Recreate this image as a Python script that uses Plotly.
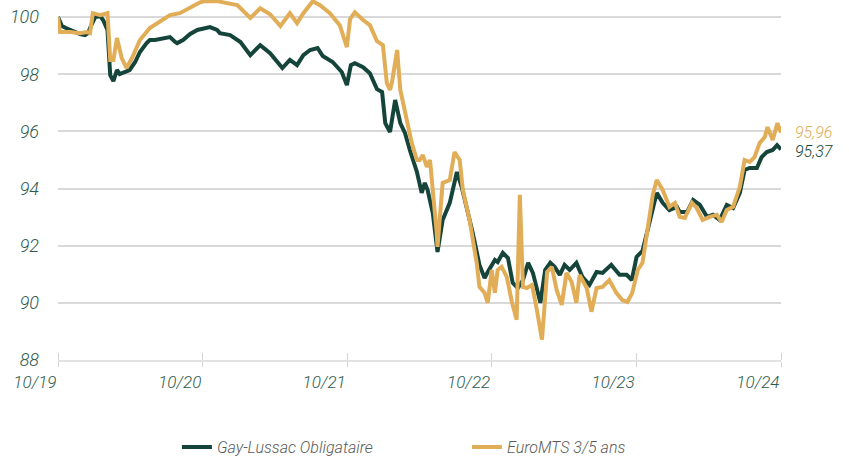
import plotly.graph_objects as go

# Gay-Lussac Obligataire (base 100)
gl_dates = ["2019-10-01","2019-10-11","2019-10-21","2019-11-01","2019-11-13","2019-11-26","2019-12-08","2019-12-16","2019-12-21",
"2020-01-03","2020-01-16","2020-01-23","2020-02-03","2020-02-10","2020-02-18","2020-02-27","2020-03-05","2020-03-18","2020-03-30",
"2020-04-13","2020-04-25","2020-05-12","2020-05-20","2020-06-02","2020-06-27","2020-07-10","2020-07-23","2020-07-28","2020-08-12",
"2020-08-30","2020-09-17","2020-10-07","2020-10-19","2020-11-06","2020-11-13","2020-12-09","2021-01-04","2021-01-29","2021-02-23",
"2021-03-20","2021-04-20","2021-05-09","2021-05-27","2021-06-12","2021-06-29","2021-07-18","2021-07-31","2021-08-25","2021-09-05",
"2021-09-17","2021-09-30","2021-10-10","2021-10-20","2021-11-10","2021-11-27","2021-12-15","2021-12-28","2022-01-05","2022-01-17",
"2022-01-30","2022-02-12","2022-02-24","2022-03-08","2022-03-26","2022-04-07","2022-04-15","2022-04-22","2022-05-05","2022-05-17",
"2022-05-30","2022-06-17","2022-07-05","2022-07-17","2022-07-30","2022-08-14","2022-08-31","2022-09-13","2022-09-21","2022-10-01",
"2022-10-09","2022-10-16","2022-10-29","2022-11-11","2022-11-23","2022-12-06","2022-12-19","2023-01-01","2023-01-13","2023-02-01",
"2023-02-13","2023-02-26","2023-03-09","2023-03-22","2023-04-03","2023-04-16","2023-05-03","2023-05-18","2023-06-05","2023-06-23",
"2023-07-08","2023-07-30","2023-08-20","2023-09-07","2023-09-20","2023-10-02","2023-10-17","2023-10-30","2023-11-12","2023-11-22",
"2023-12-07","2023-12-24","2024-01-12","2024-01-19","2024-02-07","2024-02-22","2024-03-10","2024-03-28","2024-04-12","2024-04-29",
"2024-05-17","2024-06-02","2024-06-19","2024-07-01","2024-07-14","2024-08-01","2024-08-13","2024-08-26","2024-09-10","2024-09-21",
"2024-10-01"]
gl_values = [100.00,99.69,99.62,99.55,99.48,99.41,99.37,99.44,99.62,
100.00,100.03,99.90,99.55,97.97,97.76,98.15,98.01,98.08,98.15,
98.43,98.78,99.09,99.20,99.20,99.27,99.30,99.13,99.09,99.20,
99.41,99.55,99.62,99.65,99.55,99.44,99.37,99.13,98.67,99.02,
98.74,98.22,98.50,98.32,98.67,98.85,98.92,98.64,98.43,98.25,
98.08,97.62,98.32,98.39,98.25,98.04,97.48,97.38,96.29,95.98,
97.10,96.29,95.94,95.35,94.58,93.85,94.20,93.95,93.15,91.78,
92.90,93.50,94.58,94.06,93.36,92.45,91.33,90.87,91.08,91.33,
91.50,91.43,91.75,91.57,90.70,90.52,90.80,91.40,91.05,90.00,
91.15,91.40,91.26,90.98,91.33,91.15,91.40,90.91,90.63,91.08,
91.05,91.33,90.98,90.98,90.80,91.61,91.82,92.55,93.25,93.85,
93.50,93.25,93.36,93.18,93.18,93.60,93.43,93.01,93.08,92.90,
93.43,93.32,93.85,94.65,94.72,94.72,95.10,95.28,95.35,95.52,
95.37]

# EuroMTS 3/5 ans (base 100)
em_dates = ["2019-10-01","2019-10-06","2019-11-01","2019-11-26","2019-12-13","2019-12-21","2019-12-28","2020-01-16","2020-02-03",
"2020-02-10","2020-02-18","2020-02-27","2020-03-10","2020-03-22","2020-04-05","2020-04-25","2020-05-20","2020-06-15","2020-07-10",
"2020-08-04","2020-08-30","2020-09-24","2020-10-07","2020-11-06","2020-12-01","2020-12-27","2021-01-29","2021-02-23","2021-03-20",
"2021-04-15","2021-05-09","2021-05-27","2021-06-12","2021-07-06","2021-07-24","2021-08-18","2021-09-12","2021-09-30","2021-10-08",
"2021-10-20","2021-11-10","2021-11-27","2021-12-15","2021-12-30","2022-01-09","2022-01-17","2022-01-22","2022-02-04","2022-02-12",
"2022-03-01","2022-03-13","2022-03-26","2022-04-02","2022-04-10","2022-04-20","2022-04-28","2022-05-05","2022-05-15","2022-05-17",
"2022-05-30","2022-06-17","2022-06-29","2022-07-12","2022-07-20","2022-08-06","2022-08-24","2022-08-31","2022-09-13","2022-09-21",
"2022-10-01","2022-10-09","2022-10-16","2022-10-26","2022-11-08","2022-11-21","2022-12-03","2022-12-11","2022-12-19","2022-12-29",
"2023-01-11","2023-01-23","2023-02-05","2023-02-18","2023-03-02","2023-03-14","2023-03-27","2023-04-08","2023-04-21","2023-05-03",
"2023-05-11","2023-05-29","2023-06-10","2023-06-23","2023-07-08","2023-07-25","2023-08-12","2023-08-27","2023-09-09","2023-09-21",
"2023-10-05","2023-10-17","2023-10-30","2023-11-12","2023-11-22","2023-12-07","2023-12-24","2024-01-07","2024-01-19","2024-02-01",
"2024-02-19","2024-03-02","2024-03-17","2024-04-04","2024-04-22","2024-05-04","2024-05-17","2024-06-02","2024-06-19","2024-07-01",
"2024-07-14","2024-07-26","2024-08-08","2024-08-21","2024-08-28","2024-09-10","2024-09-22","2024-10-01"]
em_values = [100.00,99.48,99.48,99.44,99.48,99.44,100.14,100.07,100.14,
98.50,98.50,99.27,98.57,98.22,98.57,99.20,99.62,99.83,100.07,
100.14,100.35,100.52,100.56,100.56,100.49,100.42,99.97,100.31,100.10,
99.69,100.14,99.79,100.14,100.56,100.42,100.14,99.72,98.95,99.93,
100.17,99.90,99.72,99.16,99.02,97.69,97.45,97.73,98.85,97.45,
96.40,95.59,95.00,95.00,95.17,94.76,95.00,94.06,92.45,91.96,
94.20,94.30,95.28,95.00,93.95,92.90,91.40,90.56,90.35,90.00,
91.15,90.35,91.15,91.26,90.91,90.03,89.41,93.78,90.56,90.52,
90.63,89.76,88.71,91.08,91.26,90.45,89.93,91.05,90.73,90.00,
90.98,90.52,89.69,90.52,90.56,90.80,90.35,90.10,90.03,90.35,
91.15,91.40,92.66,93.78,94.30,93.95,93.36,93.50,93.01,92.97,
93.50,93.32,92.90,93.01,93.08,92.83,93.25,93.36,94.06,95.00,
94.93,95.10,95.59,95.80,96.15,95.70,96.29,95.96]

series_names = ["Gay-Lussac Obligataire", "EuroMTS 3/5 ans"]
end_labels = ["95,37", "95,96"]
y_ticks = [88, 90, 92, 94, 96, 98, 100]
x_ticks = ["2019-10-01", "2020-10-01", "2021-10-01", "2022-10-01", "2023-10-01", "2024-10-01"]
x_tick_text = ["10/19", "10/20", "10/21", "10/22", "10/23", "10/24"]

GREEN = "#15453a"
GOLD = "#e2ad57"
TICK_COL = "#2f5b4e"
FONT = "Roboto"

fig = go.Figure()
fig.add_trace(go.Scatter(x=gl_dates, y=gl_values, mode="lines", name=series_names[0],
                         line=dict(color=GREEN, width=4)))
fig.add_trace(go.Scatter(x=em_dates, y=em_values, mode="lines", name=series_names[1],
                         line=dict(color=GOLD, width=4)))

fig.add_annotation(x=em_dates[-1], y=em_values[-1], text=end_labels[1], showarrow=False,
                   xanchor="left", yanchor="middle", xshift=12,
                   font=dict(family=FONT, size=16, color=GOLD, style="italic", weight=300))
fig.add_annotation(x=gl_dates[-1], y=gl_values[-1], text=end_labels[0], showarrow=False,
                   xanchor="left", yanchor="middle", xshift=12, yshift=-2,
                   font=dict(family=FONT, size=16, color=GREEN, style="italic", weight=300))

fig.update_layout(
    width=849, height=460,
    margin=dict(l=58, r=68, t=0, b=100, autoexpand=False),
    paper_bgcolor="white", plot_bgcolor="white",
    showlegend=True,
    legend=dict(orientation="h", x=0.1645, xanchor="left", y=-0.242, yanchor="middle",
                entrywidth=245, entrywidthmode="pixels", itemwidth=30,
                font=dict(family=FONT, size=16, color="#5a5a5a", style="italic", weight=300)),
    xaxis=dict(range=["2019-10-01", "2024-10-01"], tickvals=x_ticks, ticktext=x_tick_text,
               automargin=False,
               showgrid=False, zeroline=False, showline=True, linecolor="#e2e2e2", linewidth=2,
               ticks="outside", ticklen=5, tickcolor="#d4d4d4", tickwidth=1,
               ticklabelposition="outside left", ticklabelstandoff=6,
               minor=dict(ticks="inside", ticklen=7, tickcolor="#d4d4d4", tickwidth=1,
                          tickvals=x_ticks, showgrid=False),
               tickfont=dict(family=FONT, size=17, color=TICK_COL, style="italic", weight=300)),
    yaxis=dict(range=[88, 100.6], tickvals=y_ticks, showgrid=True, gridcolor="#d9d9d9", gridwidth=1.5,
               automargin=False,
               zeroline=False, showline=False, ticks="", ticklabelstandoff=18,
               tickfont=dict(family=FONT, size=18, color=TICK_COL, style="italic", weight=300)),
)

fig.write_html("out.html", config={"displayModeBar": False},
               post_script="document.body.style.margin='0';")
